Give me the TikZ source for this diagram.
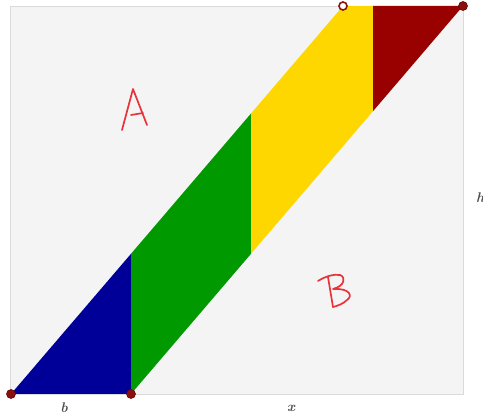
\documentclass[tikz,border=0pt]{standalone}
\usetikzlibrary{calc}
\definecolor{bgc}{HTML}{F4F4F4}
\definecolor{bgline}{HTML}{DADADA}
\definecolor{cblue}{HTML}{000099}
\definecolor{cgreen}{HTML}{009900}
\definecolor{cyellow}{HTML}{FFD700}
\definecolor{cred}{HTML}{990000}
\definecolor{cpt}{HTML}{8B1010}
\definecolor{hand}{HTML}{E8333A}
\definecolor{lbl}{HTML}{505050}
\tikzset{
  pt/.style={circle,fill=cpt,draw=cpt!70!black,line width=0.6pt,inner sep=0pt,minimum size=9pt},
  hollowpt/.style={circle,fill=white,draw=cpt,line width=1.6pt,inner sep=0pt,minimum size=8pt},
  lab/.style={text=lbl,font=\fontsize{14}{16}\selectfont\bfseries\itshape,inner sep=0pt},
  handpen/.style={draw=hand,line width=1.7pt,line cap=round,line join=round}
}
\begin{document}
\begin{tikzpicture}[x=1pt,y=-1pt]
\useasboundingbox (0,0) rectangle (483,417);
\fill[bgc] (10,6) rectangle (463,394);
\draw[bgline,line width=0.8pt] (10,6) rectangle (463,394);
% corner coordinates
\coordinate (P0) at (11,394);
\coordinate (P1) at (131,394);
\coordinate (Q0) at (343,6);
\coordinate (Q1) at (463,6);
\coordinate (L1) at (131,253.8);
\coordinate (L2) at (251,113.5);
\coordinate (R2) at (251,253.8);
\coordinate (T3) at (373,6);
\coordinate (R3) at (373,111.2);
% coloured pieces
\fill[cblue] (P0) -- (P1) -- (L1) -- cycle;
\fill[cgreen] (L1) -- (P1) -- (R2) -- (L2) -- cycle;
\fill[cyellow] (L2) -- (R2) -- (R3) -- (T3) -- (Q0) -- cycle;
\fill[cred] (T3) -- (Q1) -- (R3) -- cycle;
% handwritten letters
\draw[handpen] (122,130) -- (133,89) -- (147,125);
\draw[handpen] (131,115) -- (143,113);
\draw[handpen] (328,277) -- (333,307);
\draw[handpen] (318,281) .. controls (326,276) and (334,274) .. (340,275)
  .. controls (346,277) and (345,286) .. (333,289)
  .. controls (350,288) and (353,296) .. (347,300)
  .. controls (343,304) and (337,306) .. (333,307);
% labels
\node[lab] (lb) at (64,408) {b};
\node[lab] (lx) at (291,408) {x};
\node[lab,anchor=west] (lh) at (476,198) {h};
% points
\node[pt] (n0) at (P0) {};
\node[pt] (n1) at (P1) {};
\node[pt] (n3) at (Q1) {};
\node[hollowpt] (n2) at (Q0) {};
\end{tikzpicture}
\end{document}
